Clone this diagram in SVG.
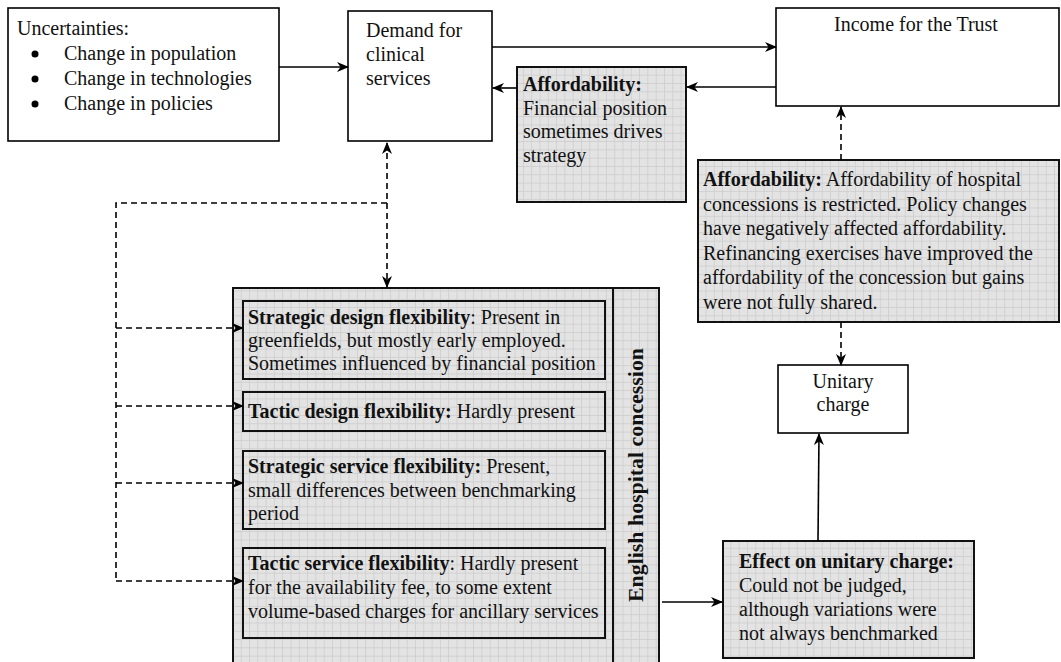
<svg xmlns="http://www.w3.org/2000/svg" width="1061" height="662" viewBox="0 0 1061 662">
<style>
text{font-family:"Liberation Serif","Times New Roman",serif;font-size:20px;fill:#111}
.b{font-weight:bold}
.box{fill:#fff;stroke:#000;stroke-width:1.6}
.gbox{fill:url(#grid);stroke:#111;stroke-width:2}
.ibox{fill:none;stroke:#111;stroke-width:2}
.c{fill:none;stroke:#000;stroke-width:1.6}
.d{fill:none;stroke:#000;stroke-width:1.6;stroke-dasharray:6 4}
</style>
<defs>
<pattern id="grid" width="8.3" height="8.3" patternUnits="userSpaceOnUse">
<rect width="8.3" height="8.3" fill="#e3e3e3"/>
<path d="M0 0.4H8.3M0.4 0V8.3" stroke="#cbcbcb" stroke-width="0.8"/>
</pattern>
<marker id="ah" viewBox="0 0 12 10" refX="11" refY="5" markerWidth="12" markerHeight="10" markerUnits="userSpaceOnUse" orient="auto-start-reverse">
<path d="M0 0L12 5L0 10L3.5 5z" fill="#000"/>
</marker>
</defs>

<g id="uncertainties">
<rect class="box" x="8" y="8" width="271" height="133"/>
<text x="17" y="35">Uncertainties:</text>
<circle cx="35" cy="54" r="3.5" fill="#000"/>
<circle cx="35" cy="79" r="3.5" fill="#000"/>
<circle cx="35" cy="104" r="3.5" fill="#000"/>
<text x="64" y="60">Change in population</text>
<text x="64" y="85">Change in technologies</text>
<text x="64" y="110">Change in policies</text>
</g>

<g id="demand">
<rect class="box" x="348" y="11" width="144" height="130"/>
<text x="366" y="37">Demand for</text>
<text x="366" y="61">clinical</text>
<text x="366" y="85">services</text>
</g>

<g id="income">
<rect class="box" x="776" y="8" width="283" height="98"/>
<text x="916" y="31" text-anchor="middle">Income for the Trust</text>
</g>

<g id="affordability-small">
<rect class="gbox" x="517" y="67" width="169" height="135"/>
<text x="523" y="91" class="b">Affordability:</text>
<text x="523" y="115">Financial position</text>
<text x="523" y="138">sometimes drives</text>
<text x="523" y="162">strategy</text>
</g>

<g id="affordability-large">
<rect class="gbox" x="698" y="160" width="361" height="162"/>
<text x="703" y="186"><tspan class="b">Affordability:</tspan> Affordability of hospital</text>
<text x="703" y="210.5">concessions is restricted. Policy changes</text>
<text x="703" y="235">have negatively affected affordability.</text>
<text x="703" y="259.5">Refinancing exercises have improved the</text>
<text x="703" y="284">affordability of the concession but gains</text>
<text x="703" y="308.5">were not fully shared.</text>
</g>

<g id="unitary">
<rect class="box" x="778" y="365" width="130" height="68"/>
<text x="843" y="388" text-anchor="middle">Unitary</text>
<text x="843" y="411" text-anchor="middle">charge</text>
</g>

<g id="effect">
<rect class="gbox" x="723" y="541" width="251" height="117"/>
<text x="739" y="568" class="b">Effect on unitary charge:</text>
<text x="739" y="592">Could not be judged,</text>
<text x="739" y="616">although variations were</text>
<text x="739" y="640">not always benchmarked</text>
</g>

<g id="concession">
<rect class="gbox" x="233" y="288" width="426" height="390"/>
<line x1="613" y1="288" x2="613" y2="662" stroke="#111" stroke-width="2"/>
<text class="b" transform="translate(643 475) rotate(-90)" text-anchor="middle" textLength="254" lengthAdjust="spacingAndGlyphs">English hospital concession</text>
<g id="strategic-design">
<rect class="ibox" x="243" y="301" width="362" height="78"/>
<text x="248" y="324"><tspan class="b">Strategic design flexibility</tspan>: Present in</text>
<text x="248" y="347">greenfields, but mostly early employed.</text>
<text x="248" y="370">Sometimes influenced by financial position</text>
</g>
<g id="tactic-design">
<rect class="ibox" x="243" y="392" width="362" height="39"/>
<text x="248" y="418"><tspan class="b">Tactic design flexibility:</tspan><tspan dx="5">Hardly present</tspan></text>
</g>
<g id="strategic-service">
<rect class="ibox" x="243" y="451" width="362" height="78"/>
<text x="248" y="473"><tspan class="b">Strategic service flexibility:</tspan> Present,</text>
<text x="248" y="497">small differences between benchmarking</text>
<text x="248" y="520">period</text>
</g>
<g id="tactic-service">
<rect class="ibox" x="243" y="548" width="362" height="90"/>
<text x="248" y="570"><tspan class="b">Tactic service flexibility</tspan>: Hardly present</text>
<text x="248" y="594">for the availability fee, to some extent</text>
<text x="248" y="618">volume-based charges for ancillary services</text>
</g>
</g>

<g id="connectors">
<line class="c" x1="279" y1="67" x2="348" y2="67" marker-end="url(#ah)"/>
<line class="c" x1="492" y1="47" x2="776" y2="47" marker-end="url(#ah)"/>
<line class="c" x1="776" y1="87" x2="687" y2="87" marker-end="url(#ah)"/>
<line class="c" x1="517" y1="88" x2="493" y2="88" marker-end="url(#ah)"/>
<line class="d" x1="841" y1="160" x2="841" y2="107" marker-end="url(#ah)"/>
<line class="d" x1="841" y1="322" x2="841" y2="365" marker-end="url(#ah)"/>
<line class="c" x1="818" y1="541" x2="819" y2="434" marker-end="url(#ah)"/>
<line class="c" x1="662" y1="602" x2="722" y2="602" marker-end="url(#ah)"/>
<line class="d" x1="387" y1="143" x2="387" y2="287" marker-start="url(#ah)" marker-end="url(#ah)"/>
<polyline class="d" points="387,203 116,203 116,581"/>
<line class="d" x1="116" y1="328" x2="243" y2="328" marker-end="url(#ah)"/>
<line class="d" x1="116" y1="406" x2="243" y2="406" marker-end="url(#ah)"/>
<line class="d" x1="116" y1="483" x2="243" y2="483" marker-end="url(#ah)"/>
<line class="d" x1="116" y1="581" x2="243" y2="581" marker-end="url(#ah)"/>
</g>
</svg>
